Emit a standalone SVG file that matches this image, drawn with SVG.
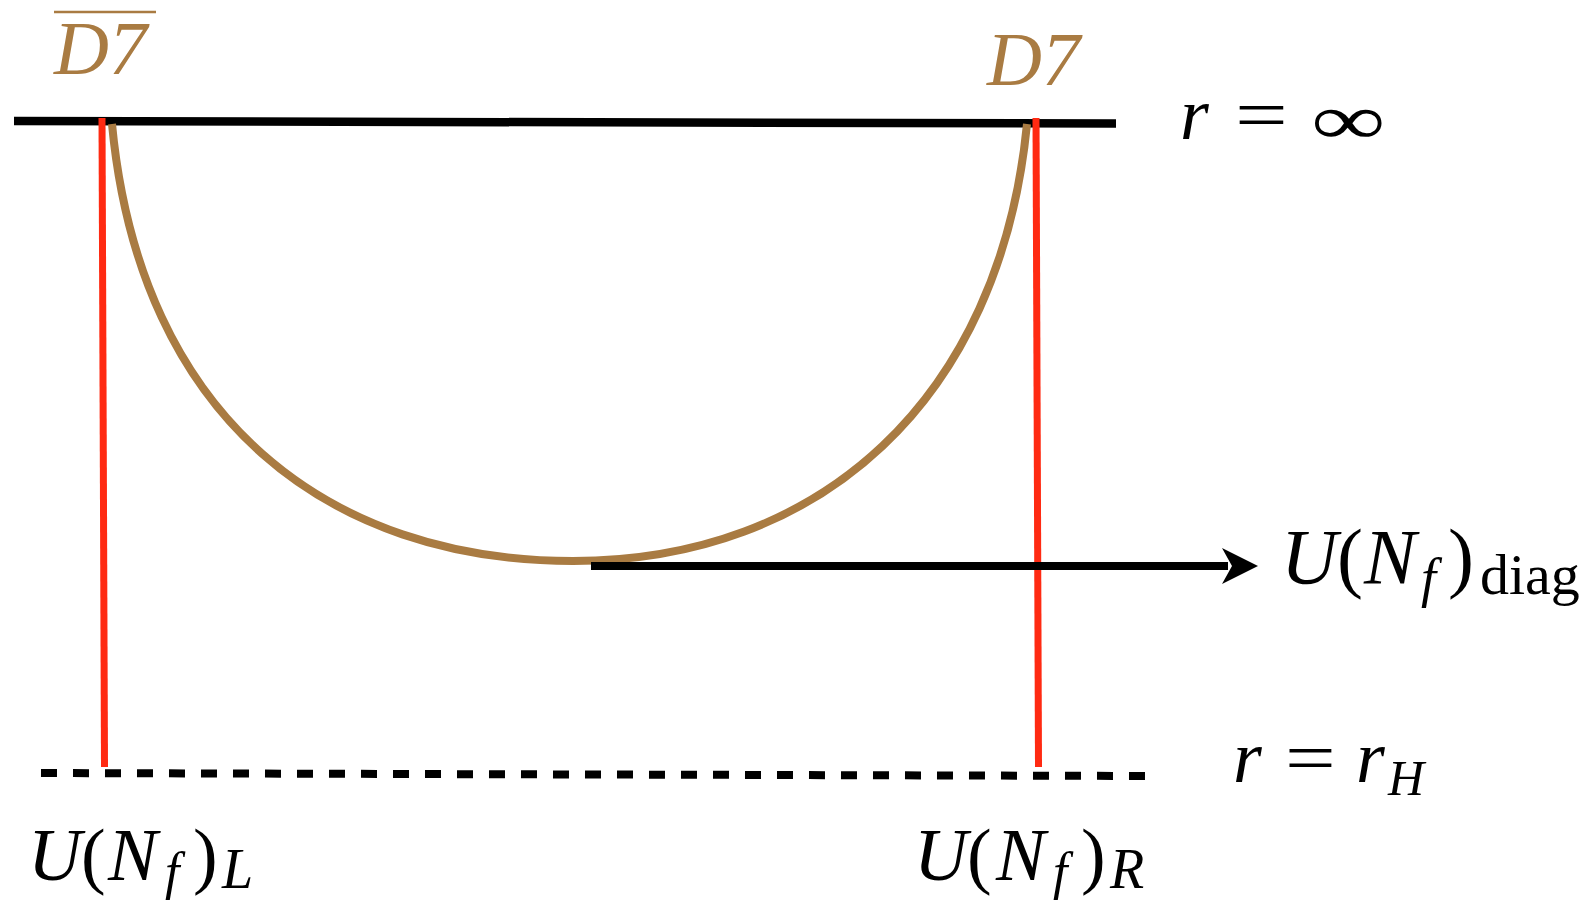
<svg xmlns="http://www.w3.org/2000/svg" width="1591" height="901" viewBox="0 0 1591 901">
<style>
.m{font-family:"Liberation Serif","DejaVu Serif",serif;font-style:italic;fill:#000}
.u{font-style:normal}
.br{fill:#a97b42}
.red{stroke:#ff2a12;stroke-width:7;fill:none}
</style>
<g id="boundary-top">
<line x1="14" y1="121" x2="1116" y2="123.5" stroke="#000" stroke-width="8.5"/>
</g>
<g id="boundary-horizon">
<line x1="41" y1="773" x2="1145" y2="776" stroke="#000" stroke-width="8" stroke-dasharray="16 16"/>
</g>
<g id="connectors">
<line class="red" x1="102" y1="118" x2="104.5" y2="767"/>
<line class="red" x1="1036" y1="118" x2="1038.5" y2="767"/>
<path d="M112,124 C140,420 330,561 573,561 C820,561 1000,400 1027,124" fill="none" stroke="#a97b42" stroke-width="8"/>
<path d="M591,566 L1228,566" stroke="#000" stroke-width="8"/>
<path d="M1258,566 L1222,548 L1232,566 L1222,584 Z" fill="#000"/>
</g>
<g id="label-D7bar">
<line x1="54" y1="12" x2="156" y2="12" stroke="#a97b42" stroke-width="2.5"/>
<text class="m br" x="54" y="74" font-size="76">D7</text>
</g>
<g id="label-D7">
<text class="m br" x="987" y="85" font-size="76">D7</text>
</g>
<g id="label-rinf">
<text class="m" x="1180" y="139" font-size="74">r</text>
<text class="m u" font-size="72" transform="translate(1235,139) scale(1.3,1)">=</text>
<text class="m u" font-size="72" transform="translate(1311,144) scale(1.45,1)">∞</text>
</g>
<g id="label-diag">
<text class="m" y="583" font-size="78"><tspan x="1281">U</tspan><tspan class="u" x="1337">(</tspan><tspan x="1364">N</tspan><tspan x="1421" y="596" font-size="54">f</tspan><tspan class="u" x="1448" y="583">)</tspan><tspan class="u" x="1480" y="594" font-size="58">diag</tspan></text>
</g>
<g id="label-rH">
<text class="m" x="1233" y="782" font-size="74">r</text>
<text class="m u" font-size="72" transform="translate(1285,782) scale(1.25,1)">=</text>
<text class="m" x="1356" y="782" font-size="74">r</text>
<text class="m" x="1388" y="795" font-size="50">H</text>
</g>
<g id="label-L">
<text class="m" y="880" font-size="74"><tspan x="28">U</tspan><tspan class="u" x="81">(</tspan><tspan x="108">N</tspan><tspan x="165" y="889" font-size="52">f</tspan><tspan class="u" x="193" y="880">)</tspan><tspan x="222" y="888" font-size="56">L</tspan></text>
</g>
<g id="label-R">
<text class="m" y="880" font-size="74"><tspan x="914">U</tspan><tspan class="u" x="967">(</tspan><tspan x="996">N</tspan><tspan x="1053" y="889" font-size="52">f</tspan><tspan class="u" x="1081" y="880">)</tspan><tspan x="1110" y="888" font-size="56">R</tspan></text>
</g>
</svg>
